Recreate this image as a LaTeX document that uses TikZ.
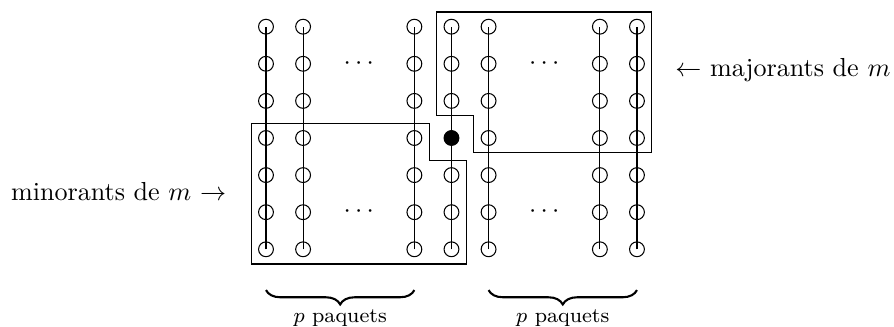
\documentclass[tikz,border=0pt]{standalone}
\usetikzlibrary{decorations.pathreplacing}
\begin{document}
\begin{tikzpicture}[
  vtx/.style={circle, draw, inner sep=0pt, minimum size=0.2cm},
  dotv/.style={vtx, fill=black},
  region/.style={draw, line width=0.5pt},
  bracestyle/.style={decorate, decoration={brace, mirror, amplitude=5.5pt}, thick},
  blabel/.style={anchor=base, font=\footnotesize, inner sep=0pt},
  side/.style={inner sep=0pt}
]
\useasboundingbox (-3.585,-1.047) rectangle (8.464,3.36);
\foreach \x [count=\i] in {0,0.5,2,2.5,3,4.5,5} {
  \foreach \r in {0,...,6} {
    \ifnum\i=4 \ifnum\r=3 \def\st{dotv}\else\def\st{vtx}\fi\else\def\st{vtx}\fi
    \node[\st] (c\i-\r) at (\x,\r*0.5) {};
  }
  \draw (c\i-0.center) -- (c\i-6.center);
}
\node (d1) at (1.25,2.5) {$\cdots$};
\node (d2) at (1.25,0.5) {$\cdots$};
\node (d3) at (3.75,2.5) {$\cdots$};
\node (d4) at (3.75,0.5) {$\cdots$};
% regions
\draw[region] (-0.2,-0.2) -- (-0.2,1.7) -- (2.2,1.7) -- (2.2,1.2) -- (2.7,1.2) -- (2.7,-0.2) -- cycle;
\draw[region] (2.3,3.2) -- (2.3,1.8) -- (2.8,1.8) -- (2.8,1.3) -- (5.2,1.3) -- (5.2,3.2) -- cycle;
% labels
\node[side, anchor=base east] (minl) at (-0.53,0.664) {minorants de $m$ $\rightarrow$};
\node[side, anchor=base west] (majl) at (5.51,2.326) {$\leftarrow$ majorants de $m$};
% braces
\coordinate (b1s) at (0,-0.55);
\coordinate (b1e) at (2,-0.55);
\coordinate (b2s) at (3,-0.55);
\coordinate (b2e) at (5,-0.55);
\draw[bracestyle] (b1s) -- (b1e);
\draw[bracestyle] (b2s) -- (b2e);
\node[blabel] (p1) at (1,-0.99) {$p$ paquets};
\node[blabel] (p2) at (4,-0.99) {$p$ paquets};
\end{tikzpicture}
\end{document}
